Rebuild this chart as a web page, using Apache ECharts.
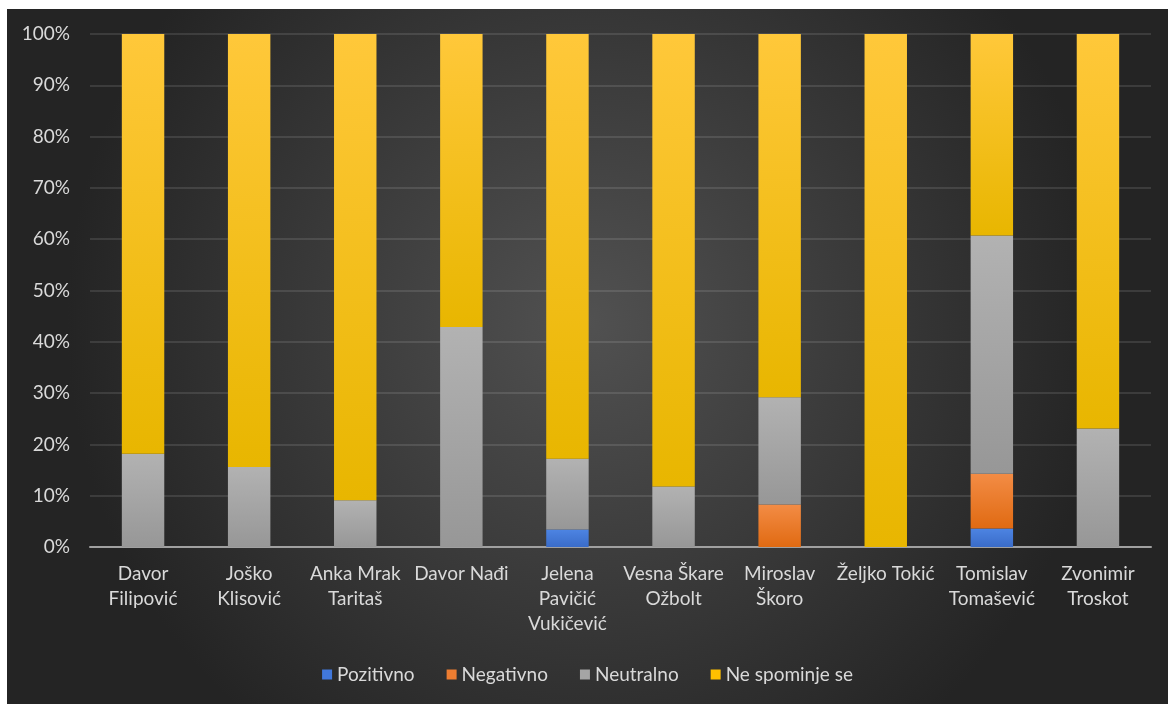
<!DOCTYPE html>
<html><head><meta charset="utf-8">
<script src="https://cdn.jsdelivr.net/npm/echarts@6/dist/echarts.min.js"></script>
<style>html,body{margin:0;padding:0;background:#fff;}#c{position:absolute;left:7px;top:9px;width:1161px;height:695px;}</style>
</head><body><div id="c"></div>
<script>
const categories = ["Davor\nFilipović","Joško\nKlisović","Anka Mrak\nTaritaš","Davor Nađi","Jelena\nPavičić\nVukičević","Vesna Škare\nOžbolt","Miroslav\nŠkoro","Željko Tokić","Tomislav\nTomašević","Zvonimir\nTroskot"];
const seriesNames = ["Pozitivno","Negativno","Neutralno","Ne spominje se"];
const pozitivno = [0,0,0,0,3.4,0,0,0,3.6,0];
const negativno = [0,0,0,0,0,0,8.3,0,10.7,0];
const neutralno = [18.2,15.6,9.1,42.9,13.8,11.8,20.9,0,46.4,23.1];
const neSpominje = [81.8,84.4,90.9,57.1,82.8,88.2,70.8,100,39.3,76.9];
const yTicks = [0,10,20,30,40,50,60,70,80,90,100];

function grad(top, bottom){
  return {type:'linear',x:0,y:0,x2:0,y2:1,colorStops:[{offset:0,color:top},{offset:1,color:bottom}]};
}
const colors = [grad('#4d84e2','#3a6cc9'), grad('#f38c45','#e06a12'), grad('#b2b2b2','#979797'), grad('#ffc83a','#e8b600')];
const legendColors = ['#4178dc','#ed7d31','#a5a5a5','#ffc000'];
const data = [pozitivno, negativno, neutralno, neSpominje];
const font = 'Lato';
const chart = echarts.init(document.getElementById('c'));
chart.setOption({
  backgroundColor: {type:'radial',x:0.5,y:0.45,r:0.75,colorStops:[{offset:0,color:'#515151'},{offset:1,color:'#242424'}]},
  textStyle:{fontFamily:font},
  grid:{left:83,right:17,top:25,bottom:157},
  legend:{
    bottom:15, left:'center', itemWidth:10, itemHeight:10, itemGap:32, icon:'rect',
    textStyle:{color:'#d9d9d9',fontSize:19,fontFamily:font,padding:[0,0,0,0]},
    data: seriesNames.map((n,i)=>({name:n,itemStyle:{color:legendColors[i]}}))
  },
  xAxis:{type:'category',data:categories,
    axisLine:{lineStyle:{color:'#a0a0a0',width:2}},axisTick:{show:false},
    axisLabel:{color:'#d9d9d9',fontSize:19,fontFamily:font,lineHeight:25,margin:14,interval:0}},
  yAxis:{type:'value',min:0,max:100,interval:10,
    axisLine:{show:false},axisTick:{show:false},
    splitLine:{lineStyle:{color:'rgba(255,255,255,0.15)',width:1.5}},
    axisLabel:{color:'#d9d9d9',fontSize:19,fontFamily:font,margin:20,formatter:v=>v+'%'}},
  series: seriesNames.map((n,i)=>({
    name:n,type:'bar',stack:'total',barWidth:'40%',data:data[i],
    itemStyle:{color:colors[i],shadowColor:'rgba(0,0,0,0.45)',shadowBlur:4},
    emphasis:{disabled:true}
  }))
});
</script></body></html>
